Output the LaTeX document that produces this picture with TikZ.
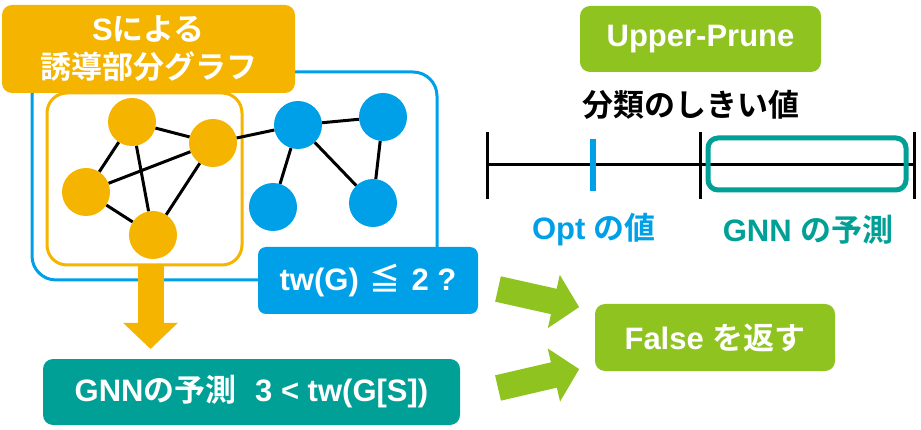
\documentclass[tikz,border=0pt]{standalone}
\usepackage{fontspec}
\setmainfont{Liberation Sans}
\newfontfamily\jafont{Noto Sans CJK JP}[BoldFont={* Bold}]
\newcommand{\ja}[1]{{\jafont #1}}
\usetikzlibrary{arrows.meta}
\definecolor{sub orange}{RGB}{245,180,0}
\definecolor{graph blue}{RGB}{0,160,233}
\definecolor{gnn teal}{RGB}{0,160,150}
\definecolor{prune green}{RGB}{143,195,31}

\begin{document}
\begin{tikzpicture}[x=1pt, y=-1pt,
		every node/.style={font=\fontsize{31}{38}\selectfont\bfseries},
		box/.style={rounded corners=10pt, inner sep=0pt, text=white, align=center},
		vtx/.style={circle, inner sep=0pt, minimum size=48pt},
		edge/.style={line width=3pt},
		bigarrow/.style={line width=26pt, -{Triangle[length=26pt, width=53pt]}}]
			\useasboundingbox (0,0) rectangle (921,430);
			% frame for G
			\node[draw=graph blue, line width=3pt, rounded corners=24pt,
				minimum width=405pt, minimum height=208pt] (whole) at (234.5,176) {};
			% frame for G[S]
			\node[draw=sub orange, line width=3pt, rounded corners=20pt,
				minimum width=195pt, minimum height=172pt] (sub) at (144.5,179) {};
			% vertices
			\node[vtx, fill=sub orange] (a) at (132,122) {};
			\node[vtx, fill=sub orange] (b) at (213,143) {};
			\node[vtx, fill=sub orange] (c) at (86,192) {};
			\node[vtx, fill=sub orange] (d) at (153,235) {};
			\node[vtx, fill=graph blue] (e) at (298,125) {};
			\node[vtx, fill=graph blue] (f) at (383,117) {};
			\node[vtx, fill=graph blue] (g) at (273,207) {};
			\node[vtx, fill=graph blue] (h) at (373,203) {};
			% edges
			\draw[edge] (a) -- (b) (a) -- (c) (a) -- (d) (c) -- (b) (c) -- (d) (b) -- (d)
				(b) -- (e) (e) -- (f) (e) -- (g) (e) -- (h) (f) -- (h);
			% boxes
			\node[box, fill=sub orange, minimum width=293pt, minimum height=88pt] (title)
				at (148.5,49) {S\ja{による}\\\ja{誘導部分グラフ}};
			\node[box, fill=graph blue, rounded corners=8pt, minimum width=220pt, minimum height=67pt] (twq)
				at (368,280.5) {tw(G)\hspace{0.35em}\ja{≦}\hspace{0.35em}2 ?};
			\draw[bigarrow, sub orange, shorten >=9pt]
				([xshift=6pt]sub.south) -- ([xshift=6pt]sub.south |- 0,358);
			\node[box, fill=gnn teal, minimum width=417pt, minimum height=66pt] (gnn)
				at (251.5,392) {GNN\ja{の予測}\hspace{0.6em}3 < tw(G[S])};
			\node[box, fill=prune green, minimum width=240pt, minimum height=67pt] (false)
				at (715,337.5) {False \ja{を返す}};
			\node[box, fill=prune green, minimum width=241pt, minimum height=66pt] (upper)
				at (700.5,39) {Upper-Prune};
			% green arrows
			\coordinate (g1) at (498,289);
			\coordinate (g2) at (498,388);
			\draw[bigarrow, prune green, shorten >=16pt] (g1) -- (false);
			\draw[bigarrow, prune green, shorten >=16pt] (g2) -- (false);
			% threshold line
			\node (thr) at (691,105) {\ja{分類のしきい値}};
			\draw[line width=3pt] (487,165) -- (914,165);
			\foreach \x in {487,700,914}
				\draw[line width=3pt] (\x,132) -- (\x,199);
			\draw[graph blue, line width=6pt] (593,139) -- (593,191);
			\draw[gnn teal, line width=5pt, rounded corners=10pt] (708,138) rectangle (906,190);
			\node[text=graph blue] (opt) at (594,230) {Opt \ja{の値}};
			\node[text=gnn teal] (pred) at (808,230) {GNN \ja{の予測}};
		\end{tikzpicture}
\end{document}
